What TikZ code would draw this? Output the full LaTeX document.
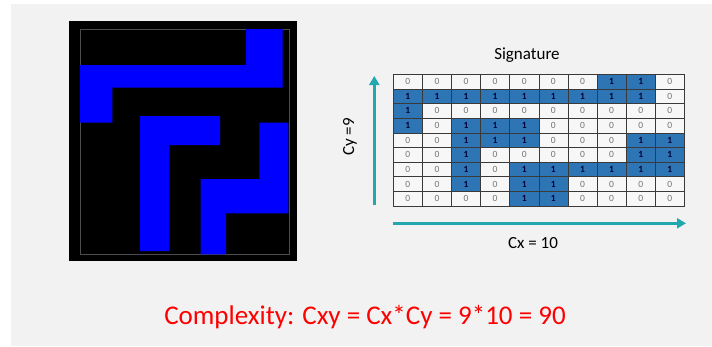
\documentclass[tikz,border=0pt]{standalone}
\usepackage{fontspec}
\setmainfont{Carlito}
\usepackage{xcolor}
\usetikzlibrary{arrows.meta}

\definecolor{slidebg}{HTML}{F2F2F2}
\definecolor{cellblue}{HTML}{2E75B6}
\definecolor{axisteal}{HTML}{21A7AD}
\definecolor{gridline}{HTML}{3A3A3A}

\tikzset{
    bit0/.style={fill=slidebg!60!white, text=black!55},
    bit1/.style={fill=cellblue, text=black!80!blue, font=\fontsize{9.5}{9.5}\selectfont\bfseries},
    cell/.style={draw=gridline, line width=0.6pt, minimum width=29.1pt,
        minimum height=14.63pt, inner sep=0pt, font=\fontsize{9.5}{9.5}\selectfont},
    axis/.style={draw=axisteal, line width=2.6pt,
        -{Triangle[length=9pt,width=10pt]}},
    block/.style={fill=blue, draw=none}
}

\begin{document}
\begin{tikzpicture}[x=1pt,y=-1pt]
    \useasboundingbox (0,0) rectangle (712,346);
    \fill[white] (0,0) rectangle (712,346);
    \fill[slidebg] (11,4) rectangle (712,346);

    % maze picture
    \fill[black] (69.3,21) rectangle (296.7,261);
    \draw[gray!60!black, line width=0.5pt] (80,29) rectangle (289,254);
    \fill[block] (246,29) -- (282.7,29) -- (282.7,87.7) -- (112.3,87.7)
        -- (112.3,122.7) -- (80,122.7) -- (80,65) -- (246,65) -- cycle;
    \fill[block] (140,116) -- (220,116) -- (220,145) -- (169.3,145)
        -- (169.3,251) -- (140,251) -- cycle;
    \fill[block] (259.3,122.7) -- (288.3,122.7) -- (288.3,213.3) -- (226,213.3)
        -- (226,254.3) -- (200.7,254.3) -- (200.7,179) -- (259.3,179) -- cycle;

    % signature table
    \node[font=\fontsize{17}{17}\selectfont] (title) at (527,55) {Signature};
    \foreach \row [count=\r] in {
        {0,0,0,0,0,0,0,1,1,0},
        {1,1,1,1,1,1,1,1,1,0},
        {1,0,0,0,0,0,0,0,0,0},
        {1,0,1,1,1,0,0,0,0,0},
        {0,0,1,1,1,0,0,0,1,1},
        {0,0,1,0,0,0,0,0,1,1},
        {0,0,1,0,1,1,1,1,1,1},
        {0,0,1,0,1,1,0,0,0,0},
        {0,0,0,0,1,1,0,0,0,0}} {
        \foreach \b [count=\c] in \row {
            \node[cell, bit\b] (c-\r-\c) at ({393.3+(\c-0.5)*29.1},{74.3+(\r-0.5)*14.63}) {\b};
        }
    }

    % axes
    \coordinate (ybot) at (374.3,205);
    \coordinate (ytop) at (374.3,76);
    \coordinate (xleft) at (393,223.3);
    \coordinate (xright) at (686,223.3);
    \draw[axis] (ybot) -- (ytop);
    \draw[axis] (xleft) -- (xright);
    \node[rotate=90, font=\fontsize{17}{17}\selectfont] (cy) at (350,137) {Cy =9};
    \node[font=\fontsize{17}{17}\selectfont] (cx) at (533,242.7) {Cx = 10};

    \node[text=red, font=\fontsize{27}{27}\selectfont] (formula) at (365,316.7)
        {Complexity: Cxy = Cx*Cy = 9*10 = 90};
\end{tikzpicture}
\end{document}
